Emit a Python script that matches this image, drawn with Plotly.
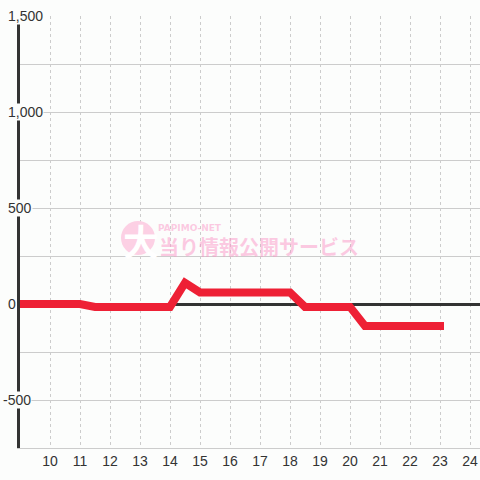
import plotly.graph_objects as go

# ---- data ----
hours = [9, 9.5, 10, 10.5, 11, 11.5, 12, 12.5, 13, 13.5, 14, 14.5, 15, 15.5,
         16, 16.5, 17, 17.5, 18, 18.5, 19, 19.5, 20, 20.5, 21, 21.5, 22, 22.5, 23]
values = [0, 0, 0, 0, 0, -15, -15, -15, -15, -15, -15, 110, 60, 60,
          60, 60, 60, 60, 60, -15, -15, -15, -15, -115, -115, -115, -115, -115, -115]
x_ticks = list(range(10, 25))
x_tick_labels = [str(h) for h in x_ticks]
y_grid = list(range(-750, 1501, 250))
y_labels = [-500, 0, 500, 1000, 1500]
wm_mark = "大"
wm_brand = "PAPIMO-NET"
wm_title = "当り情報公開サービス"

BG = "#fcfdfc"
W, H = 480, 480
ML, MR, MT, MB = 20, 0, 16, 32
PW, PH = W - ML - MR, H - MT - MB


def px(x):
    return (x - ML) / PW


def py(y):
    return (H - MB - y) / PH


fig = go.Figure()
fig.add_trace(go.Scatter(
    x=hours, y=values, mode="lines",
    line=dict(color="#ee2035", width=8),
    hoverinfo="skip", showlegend=False,
))

annotations = []
for v in y_labels:
    annotations.append(dict(
        text=f"{v:,}", xref="paper", yref="y", x=0, y=v,
        xanchor="left", yanchor="middle",
        xshift=-13 if v >= 0 else -18,
        showarrow=False, bgcolor=BG, borderpad=0,
        font=dict(size=14, color="#333", family="Liberation Sans, Arial"),
    ))

pink = "rgba(250,150,198,0.5)"
annotations += [
    dict(text=wm_mark, xref="paper", yref="paper", x=px(141), y=py(240),
         xanchor="center", yanchor="middle", showarrow=False,
         font=dict(size=36, color="white", family="Noto Sans CJK JP", weight="bold")),
    dict(text=wm_title, xref="paper", yref="paper", x=px(259), y=py(246),
         xanchor="center", yanchor="middle", showarrow=False,
         font=dict(size=20, color=pink, family="Noto Sans CJK JP", weight="bold")),
    dict(text=wm_brand, xref="paper", yref="paper", x=px(190), y=py(228),
         xanchor="center", yanchor="middle", showarrow=False,
         font=dict(size=9, color=pink, family="DejaVu Sans", weight="bold")),
]

shapes = [
    dict(type="circle", xref="paper", yref="paper", layer="above",
         x0=px(121), x1=px(155), y0=py(255), y1=py(221),
         fillcolor="#fcd0e4", line=dict(width=0)),
]

fig.update_layout(
    width=W, height=H, autosize=False,
    margin=dict(l=ML, r=MR, t=MT, b=MB),
    paper_bgcolor=BG, plot_bgcolor=BG,
    showlegend=False,
    annotations=annotations,
    shapes=shapes,
    xaxis=dict(
        range=[9, 9 + PW / 30], tickvals=x_ticks, ticktext=x_tick_labels,
        showgrid=True, gridcolor="#cccccc", gridwidth=1, griddash="3px,3px",
        zeroline=False, showline=True, linecolor="#cccccc", linewidth=1,
        ticks="", tickfont=dict(size=14, color="#333", family="Liberation Sans, Arial"),
        fixedrange=True,
    ),
    yaxis=dict(
        range=[-750, 1500], tickvals=y_grid, showticklabels=False,
        showgrid=True, gridcolor="#cccccc", gridwidth=1,
        zeroline=True, zerolinecolor="#333", zerolinewidth=3,
        showline=True, linecolor="#333", linewidth=3, ticks="",
        fixedrange=True,
    ),
)

post = (
    "document.body.style.margin='0';"
    "document.body.style.background='" + BG + "';"
    "document.querySelectorAll('.scatterlayer path.js-line').forEach(function(p){"
    "p.style.strokeLinecap='square';p.style.strokeLinejoin='miter';});"
)

fig.write_html("out.html", config={"displayModeBar": False}, post_script=post)
